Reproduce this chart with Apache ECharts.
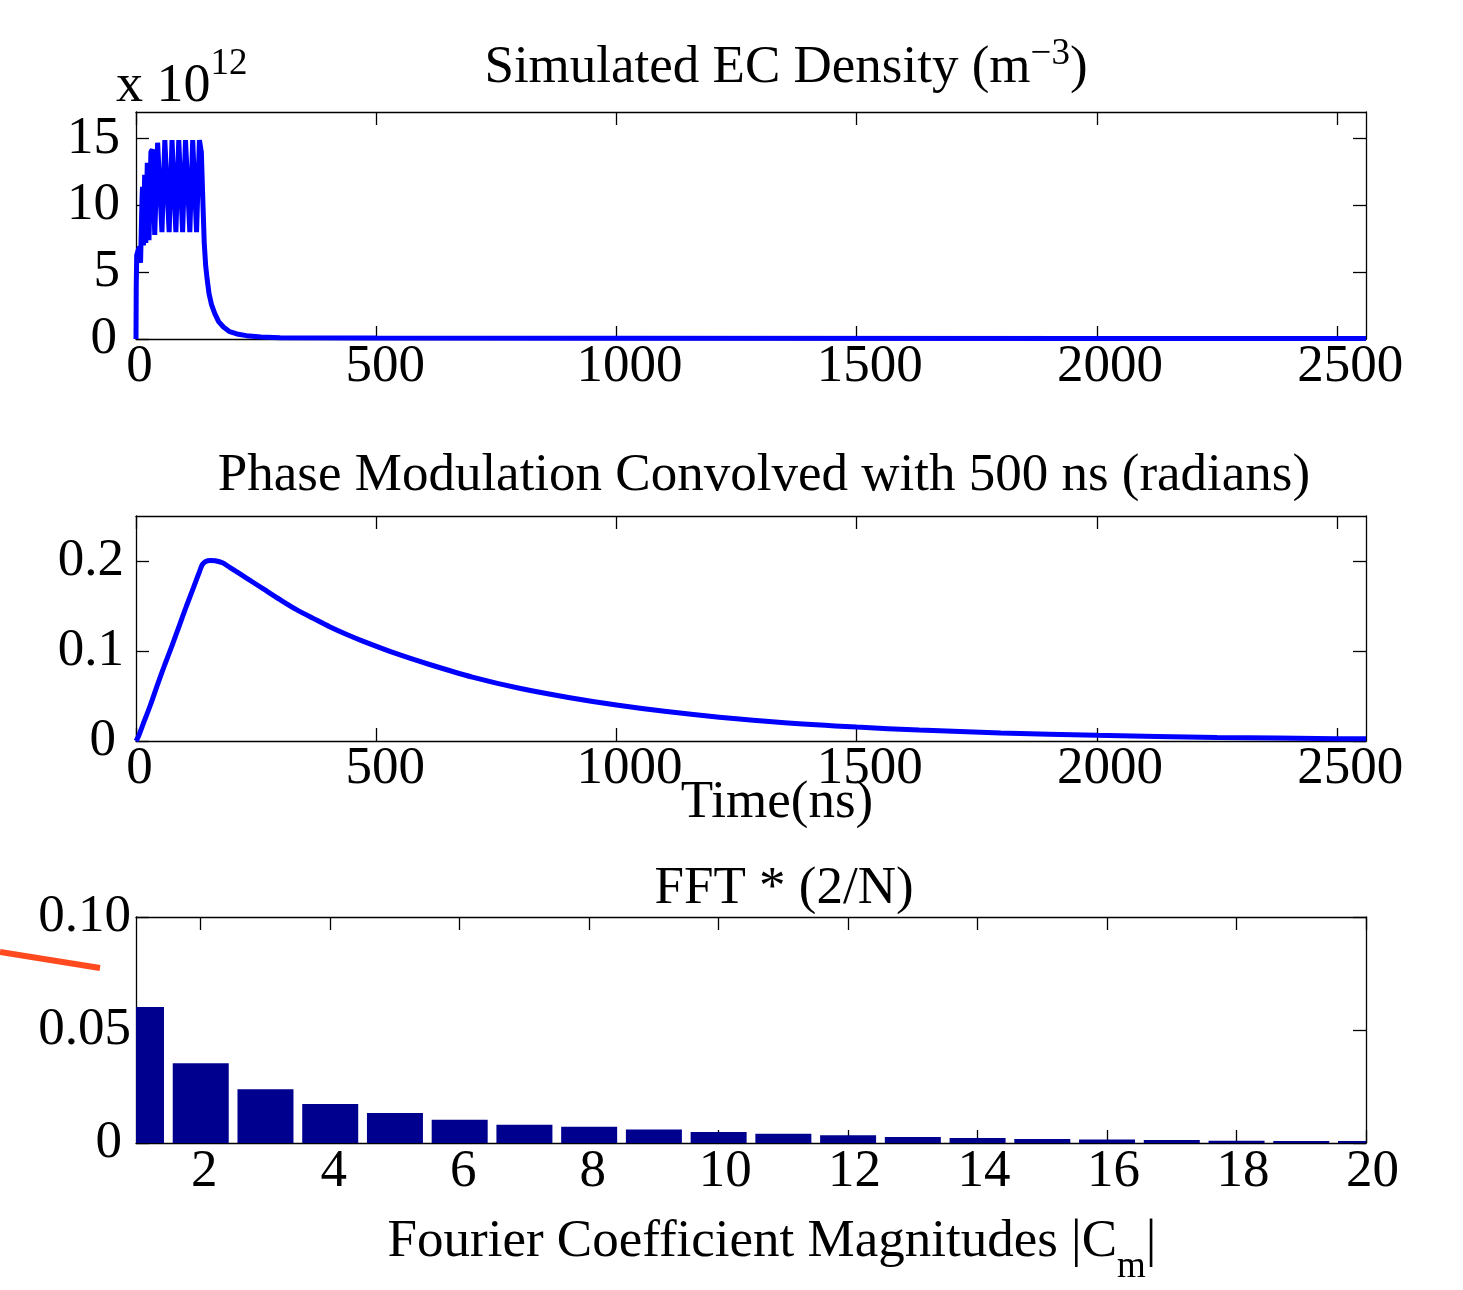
<!DOCTYPE html>
<html>
<head>
<meta charset="utf-8">
<script src="https://cdn.jsdelivr.net/npm/echarts@6/dist/echarts.min.js"></script>
<style>html,body{margin:0;padding:0;background:#fff}#c{width:1463px;height:1290px}</style>
</head>
<body>
<div id="c"></div>
<script>
// ---------- data ----------
// Simulated EC density (units of 1e12 m^-3) vs time (ns)
var densityTime  = [0, 0.5, 1.5, 5, 8, 9.5, 11, 12.5, 13.5, 15.5, 18, 20.5, 23.5, 27, 31, 34, 39, 45, 47, 54, 60, 62, 69, 75, 77, 83, 89, 91, 97, 103, 105, 112, 118, 120, 126, 132, 134, 136, 139, 142, 145, 148, 152, 157, 164, 172, 182, 195, 210, 230, 260, 300, 500, 1000, 2000, 2560];
var densityValue = [0, 4.0, 6.3, 6.7, 6.9, 5.7, 5.6, 10.5, 11.4, 7.0, 12.3, 7.2, 13.2, 7.4, 14.0, 14.2, 7.8, 14.7, 14.8, 8.0, 14.9, 14.9, 8.0, 14.9, 14.9, 8.0, 14.9, 14.9, 8.0, 14.9, 14.9, 8.0, 14.9, 14.9, 8.0, 14.9, 14.8, 14.0, 10.5, 7.2, 5.5, 4.5, 3.4, 2.6, 1.9, 1.3, 0.9, 0.55, 0.38, 0.25, 0.15, 0.10, 0.07, 0.05, 0.03, 0.03];
// Phase modulation (radians) vs time (ns)
var phaseTime  = [0, 5, 15, 30, 45, 60, 75, 90, 105, 120, 132, 138, 145, 155, 165, 180, 195, 230, 265, 300, 334, 370, 403, 440, 472, 542, 611, 700, 798, 900, 1000, 1100, 1214, 1350, 1500, 1630, 1800, 2000, 2250, 2500, 2560];
var phaseValue = [0, 0.005, 0.019, 0.040, 0.063, 0.085, 0.106, 0.128, 0.150, 0.171, 0.188, 0.196, 0.1995, 0.2005, 0.2002, 0.198, 0.193, 0.181, 0.169, 0.157, 0.146, 0.136, 0.127, 0.118, 0.111, 0.097, 0.085, 0.071, 0.0586, 0.0484, 0.040, 0.033, 0.0265, 0.0204, 0.0155, 0.0122, 0.0089, 0.0063, 0.0040, 0.0026, 0.0024];
// FFT * (2/N): Fourier coefficient magnitudes
var fftHarmonic  = [1, 2, 3, 4, 5, 6, 7, 8, 9, 10, 11, 12, 13, 14, 15, 16, 17, 18, 19, 20];
var fftMagnitude = [0.0602, 0.0353, 0.0238, 0.0173, 0.0133, 0.0103, 0.0081, 0.0072, 0.0060, 0.0049, 0.0041, 0.0034, 0.0027, 0.0022, 0.0018, 0.0016, 0.0013, 0.0010, 0.0009, 0.0009];
// tick values
var timeTicks    = [0, 500, 1000, 1500, 2000, 2500];
var densityTicks = [0, 5, 10, 15];
var phaseTicks   = [0, 0.1, 0.2];
var fftXTicks    = [2, 4, 6, 8, 10, 12, 14, 16, 18, 20];
var fftYTicks    = [0, 0.05, 0.10];

// ---------- chart ----------
var FONT = 'Liberation Serif';
var FS = 53;
var BAR_FRAC = 0.865;
function zip(a, b) { return a.map(function (v, i) { return [v, b[i]]; }); }

var grids = [
  {left: 136, top: 112, width: 1230, height: 227},
  {left: 136, top: 516, width: 1230, height: 225},
  {left: 136, top: 917, width: 1230, height: 226}
];

// labels are drawn slightly right of their tick, as in the original
var shiftRich = {
  d1: {fontFamily: FONT, fontSize: FS, color: '#000', padding: [0, 0, 0, 7]},
  d2: {fontFamily: FONT, fontSize: FS, color: '#000', padding: [0, 0, 0, 13]},
  d3: {fontFamily: FONT, fontSize: FS, color: '#000', padding: [0, 0, 0, 18]},
  d4: {fontFamily: FONT, fontSize: FS, color: '#000', padding: [0, 0, 0, 26]}
};
var fmtShift = function (v) { var s = String(v); return '{d' + s.length + '|' + s + '}'; };
function zeroRich(pad) {
  return {z: {fontFamily: FONT, fontSize: FS, color: '#000', padding: [0, pad, 0, 0]}};
}

function xAx(gi, min, max, ticks, pos, showLabel, margin) {
  return {
    type: 'value', gridIndex: gi, min: min, max: max, position: pos,
    axisLine: {show: true, onZero: false, lineStyle: {color: '#000', width: 1.3}},
    axisTick: {show: true, inside: true, length: 13, customValues: ticks, lineStyle: {color: '#000', width: 1.3}},
    axisLabel: {show: showLabel, customValues: ticks, margin: margin, formatter: fmtShift, rich: shiftRich,
                color: '#000', fontFamily: FONT, fontSize: FS},
    splitLine: {show: false}
  };
}
function yAx(gi, min, max, ticks, pos, showLabel, fmt, margin, zpad) {
  return {
    type: 'value', gridIndex: gi, min: min, max: max, position: pos,
    axisLine: {show: true, onZero: false, lineStyle: {color: '#000', width: 1.3}},
    axisTick: {show: true, inside: true, length: 13, customValues: ticks, lineStyle: {color: '#000', width: 1.3}},
    axisLabel: {show: showLabel, customValues: ticks, margin: margin, formatter: fmt, rich: zeroRich(zpad),
                color: '#000', fontFamily: FONT, fontSize: FS},
    splitLine: {show: false}
  };
}
var fmtInt = function (v) { return v === 0 ? '{z|0}' : String(Math.round(v)); };
var fmtPhase = function (v) { return v === 0 ? '{z|0}' : v.toFixed(1); };
var fmtFft = function (v) { return v === 0 ? '{z|0}' : v.toFixed(2); };

function renderBar(params, api) {
  var x = api.value(0), y = api.value(1);
  var top = api.coord([x, y]);
  var base = api.coord([x, 0]);
  var w = api.size([1, 0])[0] * BAR_FRAC;
  var cs = params.coordSys;
  var rect = echarts.graphic.clipRectByRect(
    {x: top[0] - w / 2, y: top[1], width: w, height: base[1] - top[1]},
    {x: cs.x, y: cs.y, width: cs.width, height: cs.height});
  if (!rect) return null;
  return {type: 'rect', shape: rect, style: {fill: '#00008f'}};
}

var option = {
  animation: false,
  backgroundColor: '#fff',
  grid: grids,
  xAxis: [
    xAx(0, 0, 2560, timeTicks, 'bottom', true, 2),
    xAx(0, 0, 2560, timeTicks, 'top', false, 2),
    xAx(1, 0, 2560, timeTicks, 'bottom', true, 2),
    xAx(1, 0, 2560, timeTicks, 'top', false, 2),
    xAx(2, 1, 20, fftXTicks, 'bottom', true, 3),
    xAx(2, 1, 20, fftXTicks, 'top', false, 3)
  ],
  yAxis: [
    yAx(0, 0, 17, densityTicks, 'left', true, fmtInt, 16, 3),
    yAx(0, 0, 17, densityTicks, 'right', false, fmtInt, 16, 3),
    yAx(1, 0, 0.25, phaseTicks, 'left', true, fmtPhase, 12, 8),
    yAx(1, 0, 0.25, phaseTicks, 'right', false, fmtPhase, 12, 8),
    yAx(2, 0, 0.10, fftYTicks, 'left', true, fmtFft, 5, 9),
    yAx(2, 0, 0.10, fftYTicks, 'right', false, fmtFft, 5, 9)
  ],
  series: [
    {type: 'line', xAxisIndex: 0, yAxisIndex: 0, data: zip(densityTime, densityValue),
     showSymbol: false, symbol: 'none', lineStyle: {color: '#0000ff', width: 5}, z: 1},
    {type: 'line', xAxisIndex: 2, yAxisIndex: 2, data: zip(phaseTime, phaseValue),
     showSymbol: false, symbol: 'none', smooth: 0.3, lineStyle: {color: '#0000ff', width: 5}, z: 1},
    {type: 'custom', xAxisIndex: 4, yAxisIndex: 4, data: zip(fftHarmonic, fftMagnitude),
     renderItem: renderBar, encode: {x: 0, y: 1}, z: 1}
  ],
  graphic: [
    {type: 'text', z: 100, style: {
      x: 786, y: 36, align: 'center', verticalAlign: 'top',
      text: '{a|Simulated EC Density (m}{s|\u22123}{a|)}',
      rich: {
        a: {fontFamily: FONT, fontSize: FS, lineHeight: 59, verticalAlign: 'bottom', fill: '#000'},
        s: {fontFamily: FONT, fontSize: 37, lineHeight: 37, verticalAlign: 'top', fill: '#000'}
      }}},
    {type: 'text', z: 100, style: {
      x: 116, y: 46, align: 'left', verticalAlign: 'top',
      text: '{a|x 10}{s|12}',
      rich: {
        a: {fontFamily: FONT, fontSize: 54, lineHeight: 68, verticalAlign: 'bottom', fill: '#000'},
        s: {fontFamily: FONT, fontSize: 37, lineHeight: 37, verticalAlign: 'top', fill: '#000'}
      }}},
    {type: 'text', z: 100, style: {
      x: 764, y: 476, align: 'center', verticalAlign: 'middle',
      text: 'Phase Modulation Convolved with 500 ns (radians)',
      fontFamily: FONT, fontSize: FS, fill: '#000'}},
    {type: 'text', z: 100, style: {
      x: 777, y: 803, align: 'center', verticalAlign: 'middle',
      text: 'Time(ns)', fontFamily: FONT, fontSize: FS, fill: '#000'}},
    {type: 'text', z: 100, style: {
      x: 784, y: 889, align: 'center', verticalAlign: 'middle',
      text: 'FFT * (2/N)', fontFamily: FONT, fontSize: FS, fill: '#000'}},
    {type: 'text', z: 100, style: {
      x: 772, y: 1216, align: 'center', verticalAlign: 'top',
      text: '{a|Fourier Coefficient Magnitudes |C}{b|m}{a||}',
      rich: {
        a: {fontFamily: FONT, fontSize: FS, lineHeight: 53, verticalAlign: 'top', fill: '#000'},
        b: {fontFamily: FONT, fontSize: 37, lineHeight: 70, verticalAlign: 'bottom', fill: '#000'}
      }}},
    {type: 'line', z: 100, shape: {x1: 0, y1: 952, x2: 100, y2: 968},
     style: {stroke: '#ff4a1f', lineWidth: 6}}
  ]
};
var chart = echarts.init(document.getElementById('c'), null, {renderer: 'canvas'});
chart.setOption(option);
</script>
</body>
</html>
